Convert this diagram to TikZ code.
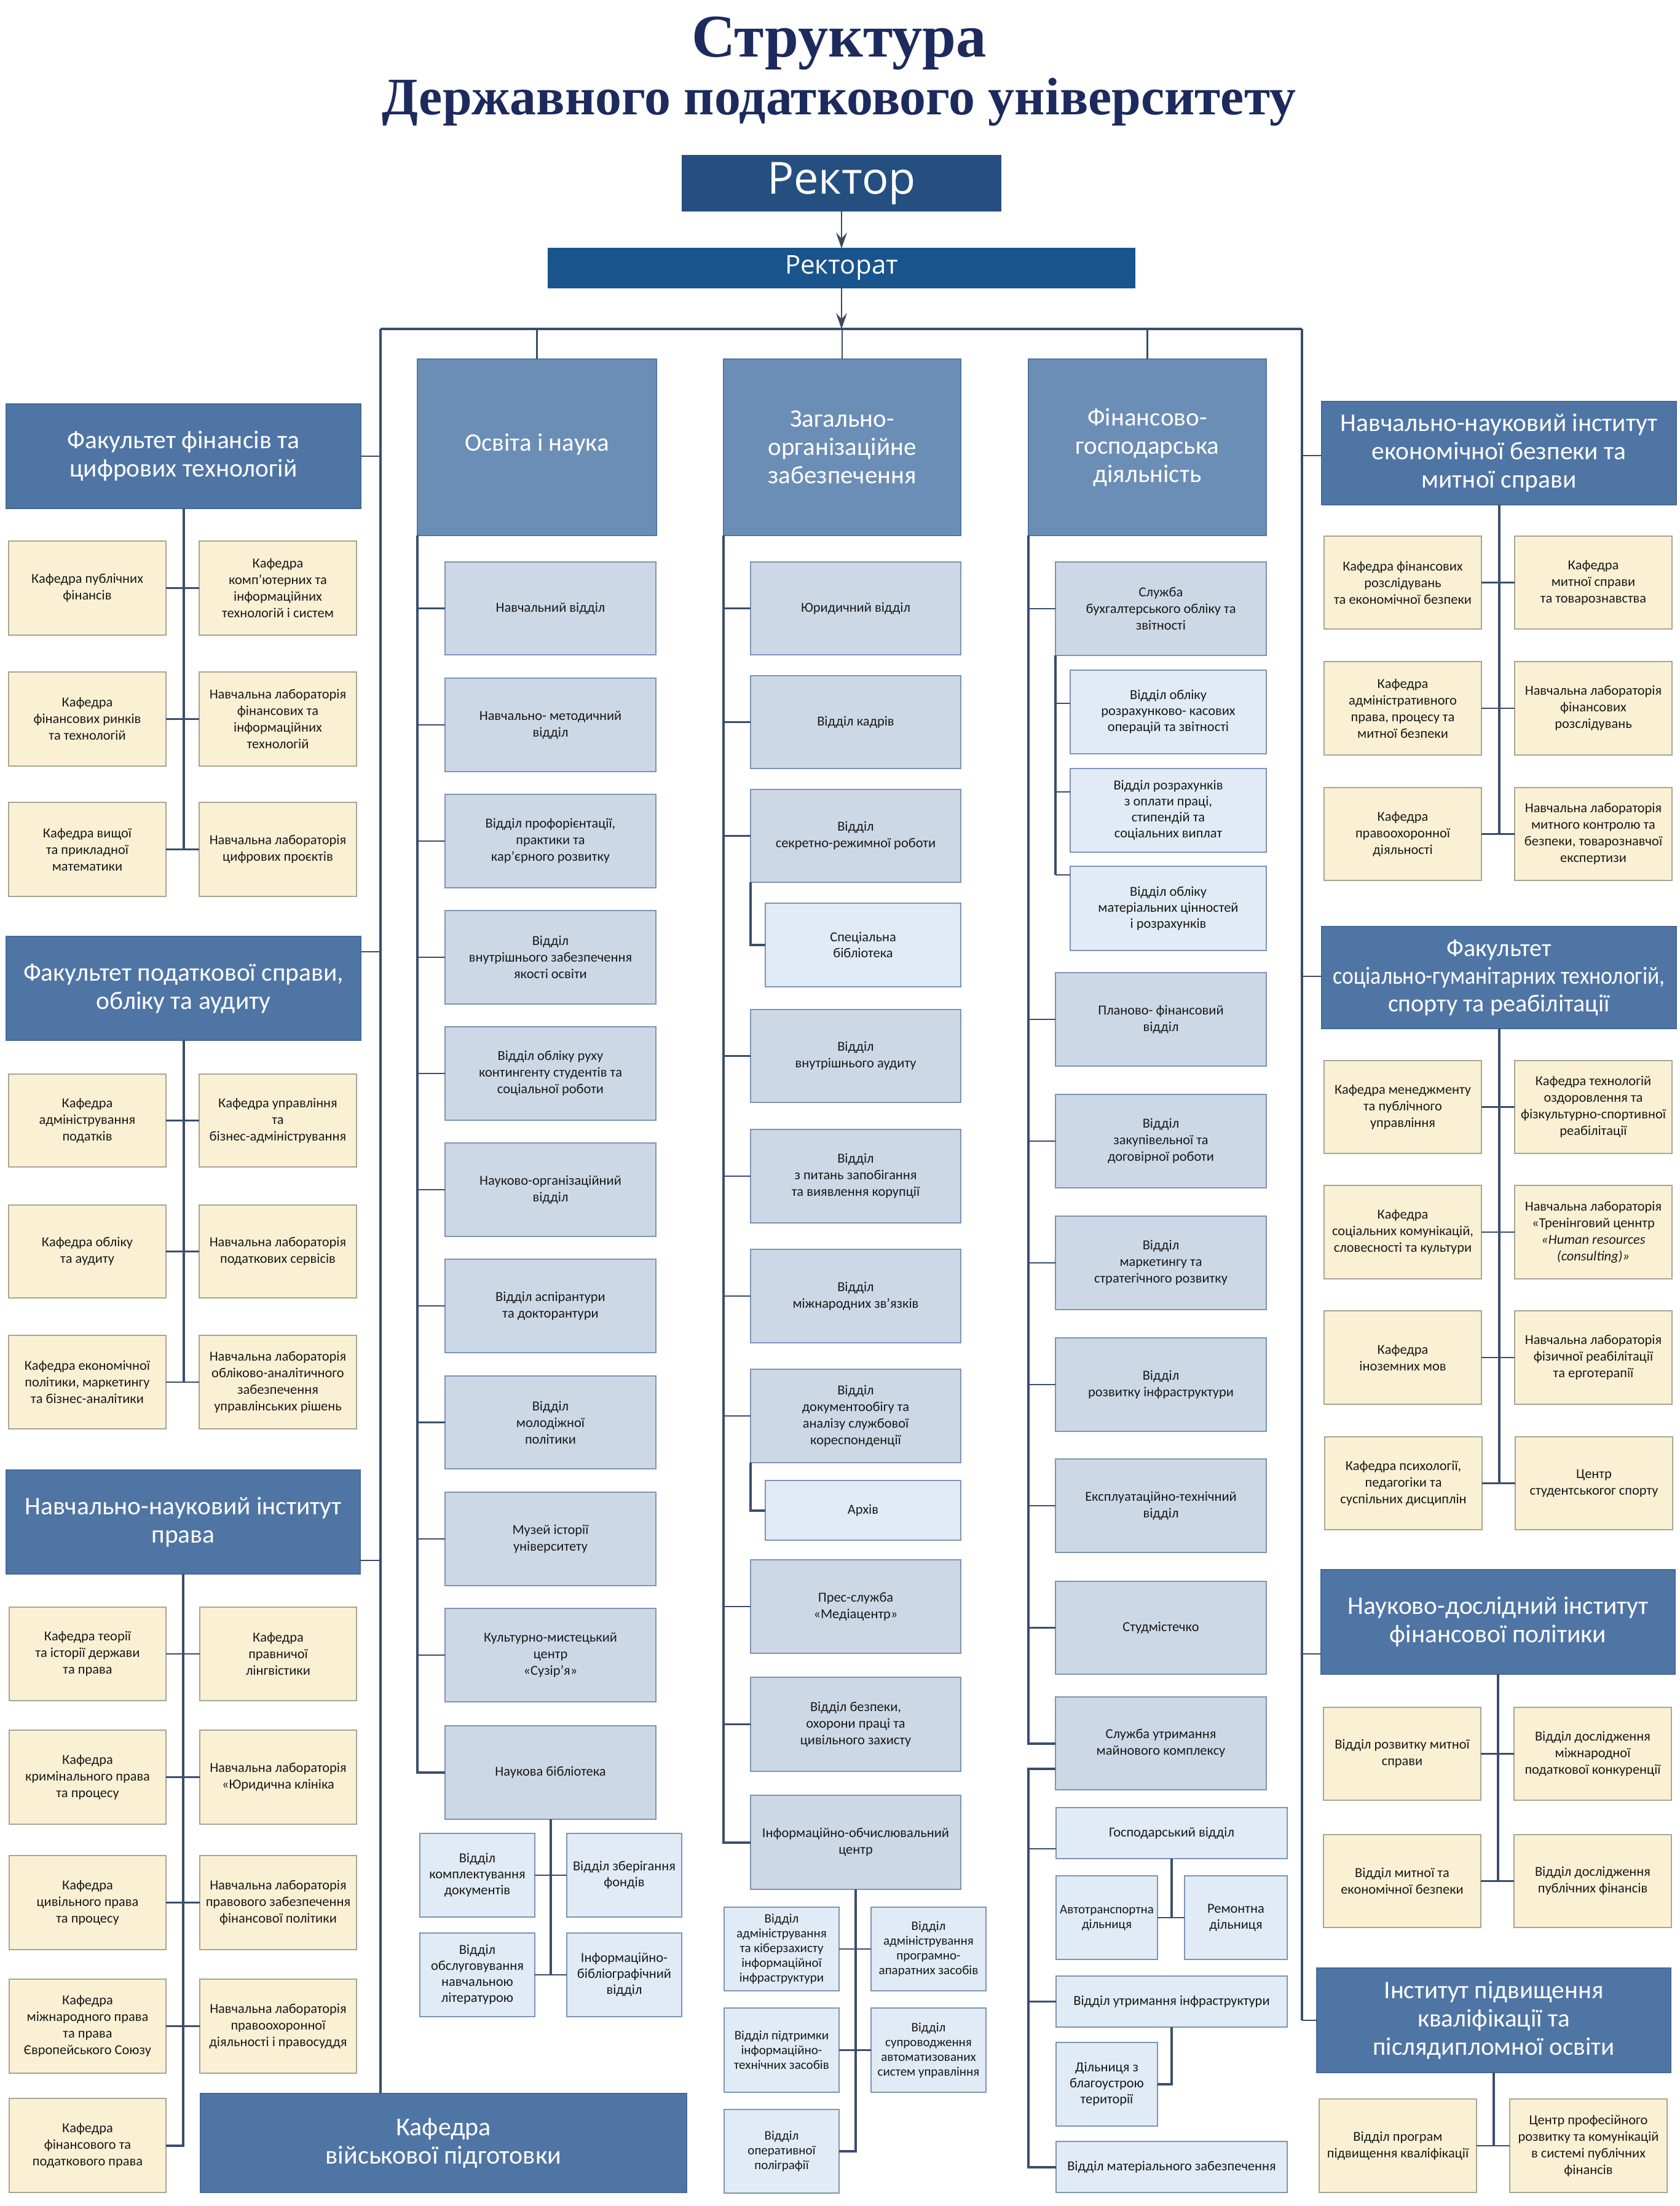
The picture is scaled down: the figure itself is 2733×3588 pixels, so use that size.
\documentclass[tikz,border=0pt]{standalone}
\usepackage{graphicx}
\usepackage{fontspec}
\setmainfont{Carlito}
\newfontfamily\osans{Open Sans}
\newfontfamily\tserif{Liberation Serif}
\usetikzlibrary{arrows.meta}
\definecolor{titlec}{RGB}{28,42,94}
\definecolor{rectc}{RGB}{36,79,128}
\definecolor{ratc}{RGB}{26,84,140}
\definecolor{hdrc}{RGB}{79,117,165}
\definecolor{hdrb}{RGB}{70,105,150}
\definecolor{colc}{RGB}{107,142,183}
\definecolor{colb}{RGB}{85,118,160}
\definecolor{leafc}{RGB}{205,216,231}
\definecolor{leafb}{RGB}{125,148,180}
\definecolor{subc}{RGB}{225,235,245}
\definecolor{yelc}{RGB}{250,241,213}
\definecolor{yelb}{RGB}{168,165,145}
\definecolor{txtc}{RGB}{25,25,25}
\definecolor{lc}{RGB}{58,77,108}
\definecolor{arrc}{RGB}{60,72,92}
\newcommand\mybox[7]{%
  \node[#1, minimum width={(#5-#3)*0.5pt}, minimum height={(#6-#4)*0.5pt}] (#2) at ({(#3+#5)/2},{(#4+#6)/2}) {#7};}
\tikzset{
  base/.style={rectangle, inner sep=1pt, outer sep=0pt, align=center, line width=0.8pt},
  hdr/.style={base, fill=hdrc, draw=hdrb, text=white, font=\fontsize{20.7}{23}\selectfont},
  colhdr/.style={base, fill=colc, draw=colb, text=white, font=\fontsize{20.5}{23}\selectfont},
  leaf/.style={base, fill=leafc, draw=leafb, text=txtc, font=\fontsize{11.2}{13.5}\selectfont},
  sub/.style={leaf, fill=subc, font=\fontsize{11.2}{13}\selectfont},
  subs/.style={leaf, fill=subc, font=\fontsize{10.5}{12}\selectfont},
  kaf/.style={base, fill=yelc, draw=yelb, text=txtc, font=\fontsize{11.2}{13.5}\selectfont},
  conn/.style={draw=lc, line width=1.3pt},
  trunk/.style={draw=lc, line width=2pt},
  bus/.style={draw=lc, line width=1.6pt},
  arr/.style={draw=arrc, line width=1pt, -{Stealth[length=13pt,width=9pt,inset=5pt]}},
}
\begin{document}
\begin{tikzpicture}[x=0.5pt,y=-0.5pt]
\fill[white] (0,0) rectangle (2733,3588);
\useasboundingbox (0,0) rectangle (2733,3588);

% ---------- title ----------
\node[anchor=base, inner sep=0, text=titlec, font=\tserif\bfseries] (t1) at (1365,92) {\resizebox{240pt}{!}{Структура}};
\node[anchor=base, inner sep=0, text=titlec, font=\tserif\bfseries] (t2) at (1365,186) {\resizebox{743pt}{!}{Державного податкового університету}};

% ---------- top ----------
\mybox{base, fill=rectc, draw=rectc, text=white, font=\osans\fontsize{36}{40}\selectfont}{rector}{1110}{253}{1628}{343}{Ректор}
\mybox{base, fill=ratc, draw=ratc, text=white, font=\osans\fontsize{21}{24}\selectfont}{rectorat}{892}{404}{1846}{468}{Ректорат}

% ---------- column headers ----------
\mybox{colhdr}{ohead}{679}{584}{1068}{871}{\raisebox{8pt}{Освіта і наука}}
\mybox{colhdr}{zhead}{1177}{584}{1563}{871}{Загально-\\організаційне\\забезпечення}
\mybox{colhdr}{fhead}{1673}{584}{2060}{871}{Фінансово-\\господарська\\діяльність}

% ---------- left faculties ----------
\mybox{hdr}{fA}{10}{657}{587}{827}{Факультет фінансів та\\цифрових технологій}
\mybox{kaf}{fAl1}{14}{880}{270}{1033}{Кафедра публічних\\фінансів}
\mybox{kaf}{fAr1}{324}{880}{580}{1033}{Кафедра\\комп’ютерних та\\інформаційних\\технологій і систем}
\mybox{kaf}{fAl2}{14}{1093}{270}{1246}{Кафедра\\фінансових ринків\\та технологій}
\mybox{kaf}{fAr2}{324}{1093}{580}{1246}{Навчальна лабораторія\\фінансових та\\інформаційних\\технологій}
\mybox{kaf}{fAl3}{14}{1305}{270}{1458}{Кафедра вищої\\та прикладної\\математики}
\mybox{kaf}{fAr3}{324}{1305}{580}{1458}{Навчальна лабораторія\\цифрових проєктів}

\mybox{hdr}{fB}{10}{1523}{587}{1692}{Факультет податкової справи,\\обліку та аудиту}
\mybox{kaf}{fBl1}{14}{1747}{270}{1898}{Кафедра\\адміністрування\\податків}
\mybox{kaf}{fBr1}{324}{1747}{580}{1898}{Кафедра управління\\та\\бізнес-адміністрування}
\mybox{kaf}{fBl2}{14}{1960}{270}{2111}{Кафедра обліку\\та аудиту}
\mybox{kaf}{fBr2}{324}{1960}{580}{2111}{Навчальна лабораторія\\податкових сервісів}
\mybox{kaf}{fBl3}{14}{2172}{270}{2324}{Кафедра економічної\\політики, маркетингу\\та бізнес-аналітики}
\mybox{kaf}{fBr3}{324}{2172}{580}{2324}{Навчальна лабораторія\\обліково-аналітичного\\забезпечення\\управлінських рішень}

\mybox{hdr}{fC}{10}{2391}{586}{2560}{Навчально-науковий інститут\\права}
\mybox{kaf}{fCl1}{15}{2614}{270}{2766}{Кафедра теорії\\та історії держави\\та права}
\mybox{kaf}{fCr1}{325}{2614}{580}{2766}{Кафедра\\правничої\\лінгвістики}
\mybox{kaf}{fCl2}{15}{2814}{270}{2967}{Кафедра\\кримінального права\\та процесу}
\mybox{kaf}{fCr2}{325}{2814}{580}{2967}{Навчальна лабораторія\\«Юридична клініка}
\mybox{kaf}{fCl3}{15}{3018}{270}{3171}{Кафедра\\цивільного права\\та процесу}
\mybox{kaf}{fCr3}{325}{3018}{580}{3171}{Навчальна лабораторія\\правового забезпечення\\фінансової політики}
\mybox{kaf}{fCl4}{15}{3219}{270}{3372}{Кафедра\\міжнародного права\\та права\\Європейського Союзу}
\mybox{kaf}{fCr4}{325}{3219}{580}{3372}{Навчальна лабораторія\\правоохоронної\\діяльності і правосуддя}
\mybox{kaf}{fCl5}{15}{3413}{270}{3566}{Кафедра\\фінансового та\\податкового права}

\mybox{hdr, font=\fontsize{21}{23}\selectfont}{kvp}{326}{3405}{1117}{3566}{Кафедра\\військової підготовки}

% ---------- Освіта і наука ----------
\mybox{leaf}{o1}{724}{914}{1067}{1065}{Навчальний відділ}
\mybox{leaf}{o2}{724}{1103}{1067}{1255}{Навчально- методичний\\відділ}
\mybox{leaf}{o3}{724}{1292}{1067}{1444}{Відділ профорієнтації,\\практики та\\кар’єрного розвитку}
\mybox{leaf}{o4}{724}{1481}{1067}{1633}{Відділ\\внутрішнього забезпечення\\якості освіти}
\mybox{leaf}{o5}{724}{1670}{1067}{1822}{Відділ обліку руху\\контингенту студентів та\\соціальної роботи}
\mybox{leaf}{o6}{724}{1859}{1067}{2011}{Науково-організаційний\\відділ}
\mybox{leaf}{o7}{724}{2048}{1067}{2200}{Відділ аспірантури\\та докторантури}
\mybox{leaf}{o8}{724}{2238}{1067}{2389}{Відділ\\молодіжної\\політики}
\mybox{leaf}{o9}{724}{2427}{1067}{2579}{Музей історії\\університету}
\mybox{leaf}{o10}{724}{2616}{1067}{2768}{Культурно-мистецький\\центр\\«Сузір’я»}
\mybox{leaf}{o11}{724}{2807}{1067}{2959}{Наукова бібліотека}
\mybox{sub}{ol1}{683}{2982}{870}{3118}{Відділ\\комплектування\\документів}
\mybox{sub}{or1}{922}{2982}{1109}{3118}{Відділ зберігання\\фондів}
\mybox{sub}{ol2}{683}{3144}{870}{3280}{Відділ\\обслуговування\\навчальною\\літературою}
\mybox{sub}{or2}{922}{3144}{1109}{3280}{Інформаційно-\\бібліографічний\\відділ}

% ---------- Загально-організаційне ----------
\mybox{leaf}{z1}{1221}{914}{1563}{1065}{Юридичний відділ}
\mybox{leaf}{z2}{1221}{1099}{1563}{1250}{Відділ кадрів}
\mybox{leaf}{z3}{1221}{1284}{1563}{1435}{Відділ\\секретно-режимної роботи}
\mybox{sub}{zs}{1245}{1469}{1563}{1605}{Спеціальна\\бібліотека}
\mybox{leaf}{z4}{1221}{1642}{1563}{1793}{Відділ\\внутрішнього аудиту}
\mybox{leaf}{z5}{1221}{1837}{1563}{1989}{Відділ\\з питань запобігання\\та виявлення корупції}
\mybox{leaf}{z6}{1221}{2032}{1563}{2184}{Відділ\\міжнародних зв’язків}
\mybox{leaf}{z7}{1221}{2227}{1563}{2379}{Відділ\\документообігу та\\аналізу службової\\кореспонденції}
\mybox{sub}{za}{1245}{2408}{1563}{2505}{Архів}
\mybox{leaf}{z8}{1221}{2537}{1563}{2689}{Прес-служба\\«Медіацентр»}
\mybox{leaf}{z9}{1221}{2728}{1563}{2881}{Відділ безпеки,\\охорони праці та\\цивільного захисту}
\mybox{leaf}{z10}{1221}{2920}{1563}{3073}{Інформаційно-обчислювальний\\центр}
\mybox{subs}{zl1}{1178}{3102}{1365}{3238}{Відділ\\адміністрування\\та кіберзахисту\\інформаційної\\інфраструктури}
\mybox{subs}{zr1}{1417}{3102}{1604}{3238}{Відділ\\адміністрування\\програмно-\\апаратних засобів}
\mybox{subs}{zl2}{1178}{3266}{1365}{3403}{Відділ підтримки\\інформаційно-\\технічних засобів}
\mybox{subs}{zr2}{1417}{3266}{1604}{3403}{Відділ\\супроводження\\автоматизованих\\систем управління}
\mybox{subs}{zl3}{1178}{3431}{1365}{3567}{Відділ\\оперативної\\поліграфії}

% ---------- Фінансово-господарська ----------
\mybox{leaf}{f1}{1717}{914}{2060}{1066}{Служба\\бухгалтерського обліку та\\звітності}
\mybox{sub}{fs1}{1741}{1090}{2060}{1226}{Відділ обліку\\розрахунково- касових\\операцій та звітності}
\mybox{sub}{fs2}{1741}{1250}{2060}{1386}{Відділ розрахунків\\з оплати праці,\\стипендій та\\соціальних виплат}
\mybox{sub}{fs3}{1741}{1409}{2060}{1546}{Відділ обліку\\матеріальних цінностей\\і розрахунків}
\mybox{leaf}{f2}{1717}{1582}{2060}{1734}{Планово- фінансовий\\відділ}
\mybox{leaf}{f3}{1717}{1780}{2060}{1932}{Відділ\\закупівельної та\\договірної роботи}
\mybox{leaf}{f4}{1717}{1978}{2060}{2130}{Відділ\\маркетингу та\\стратегічного розвитку}
\mybox{leaf}{f5}{1717}{2176}{2060}{2328}{Відділ\\розвитку інфраструктури}
\mybox{leaf}{f6}{1717}{2373}{2060}{2525}{Експлуатаційно-технічний\\відділ}
\mybox{leaf}{f7}{1717}{2572}{2060}{2723}{Студмістечко}
\mybox{leaf}{f8}{1717}{2760}{2060}{2911}{Служба утримання\\майнового комплексу}
\mybox{sub}{fg}{1718}{2940}{2094}{3023}{Господарський відділ}
\mybox{subs}{fa}{1718}{3051}{1883}{3187}{Автотранспортна\\дільниця}
\mybox{sub}{fr}{1927}{3051}{2094}{3187}{Ремонтна\\дільниця}
\mybox{sub}{fu}{1718}{3214}{2094}{3297}{Відділ утримання інфраструктури}
\mybox{sub}{fd}{1718}{3322}{1883}{3458}{Дільниця з\\благоустрою\\території}
\mybox{sub}{fm}{1718}{3483}{2094}{3566}{Відділ матеріального забезпечення}

% ---------- right side ----------
\mybox{hdr}{rA}{2150}{653}{2727}{821}{Навчально-науковий інститут\\економічної безпеки та\\митної справи}
\mybox{kaf}{rAl1}{2154}{872}{2410}{1023}{Кафедра фінансових\\розслідувань\\та економічної безпеки}
\mybox{kaf}{rAr1}{2464}{872}{2720}{1023}{Кафедра\\митної справи\\та товарознавства}
\mybox{kaf}{rAl2}{2154}{1076}{2410}{1228}{Кафедра\\адміністративного\\права, процесу та\\митної безпеки}
\mybox{kaf}{rAr2}{2464}{1076}{2720}{1228}{Навчальна лабораторія\\фінансових\\розслідувань}
\mybox{kaf}{rAl3}{2154}{1281}{2410}{1432}{Кафедра\\правоохоронної\\діяльності}
\mybox{kaf}{rAr3}{2464}{1281}{2720}{1432}{Навчальна лабораторія\\митного контролю та\\безпеки, товарознавчої\\експертизи}

\mybox{hdr, font=\fontsize{20}{22.5}\selectfont}{rB}{2150}{1507}{2727}{1673}{Факультет\\\resizebox{270pt}{\height}{соціально-гуманітарних технологій,}\\спорту та реабілітації}
\mybox{kaf}{rBl1}{2154}{1725}{2410}{1876}{Кафедра менеджменту\\та публічного\\управління}
\mybox{kaf}{rBr1}{2464}{1725}{2720}{1876}{Кафедра технологій\\оздоровлення та\\фізкультурно-спортивної\\реабілітації}
\mybox{kaf}{rBl2}{2154}{1928}{2410}{2080}{Кафедра\\соціальних комунікацій,\\словесності та культури}
\mybox{kaf}{rBr2}{2464}{1928}{2720}{2080}{Навчальна лабораторія\\«Тренінговий ценнтр\\\textit{«Human resources}\\\textit{(consulting)»}}
\mybox{kaf}{rBl3}{2154}{2132}{2410}{2284}{Кафедра\\іноземних мов}
\mybox{kaf}{rBr3}{2464}{2132}{2720}{2284}{Навчальна лабораторія\\фізичної реабілітації\\та ерготерапії}
\mybox{kaf}{rBl4}{2155}{2337}{2411}{2488}{Кафедра психології,\\педагогіки та\\суспільних дисциплін}
\mybox{kaf}{rBr4}{2465}{2337}{2721}{2488}{Центр\\студентськогог спорту}

\mybox{hdr}{rC}{2149}{2553}{2725}{2723}{Науково-дослідний інститут\\фінансової політики}
\mybox{kaf}{rCl1}{2153}{2777}{2409}{2928}{Відділ розвитку митної\\справи}
\mybox{kaf}{rCr1}{2463}{2777}{2719}{2928}{Відділ дослідження\\міжнародної\\податкової конкуренції}
\mybox{kaf}{rCl2}{2153}{2984}{2409}{3135}{Відділ митної та\\економічної безпеки}
\mybox{kaf}{rCr2}{2463}{2984}{2719}{3135}{Відділ дослідження\\публічних фінансів}

\mybox{hdr, font=\fontsize{20.5}{23}\selectfont}{rD}{2142}{3201}{2718}{3371}{Інститут підвищення\\кваліфікації та\\післядипломної освіти}
\mybox{kaf}{rDl}{2146}{3414}{2402}{3566}{Відділ програм\\підвищення кваліфікації}
\mybox{kaf}{rDr}{2456}{3414}{2712}{3566}{Центр професійного\\розвитку та комунікацій\\в системі публічних\\фінансів}

% ---------- helper coordinates ----------
\coordinate (busL) at (619,535);
\coordinate (busR) at (2118,535);
\coordinate (yB) at (0,1548);
\coordinate (yC) at (0,2538);
\coordinate (yRA) at (0,741);
\coordinate (yRB) at (0,1588);
\coordinate (yRC) at (0,2690);
\coordinate (ys1) at (0,1144);
\coordinate (ys2) at (0,1288);
\coordinate (ys3) at (0,1423);
\coordinate (y2877) at (0,2877);
\coordinate (y3007) at (0,3007);

% ---------- connectors: top ----------
\draw[arr] (rector.south) -- (rectorat.north);
\draw[arr] (rectorat.south) -- (rectorat.south |- busL);
\draw[bus] (busL) -- (busR);
\draw[bus] (busL) -- (busL |- kvp.north);
\draw[bus] (busR) -- (busR |- rD.west);
\draw[conn] (ohead.north) -- (ohead.north |- busL);
\draw[conn] (zhead.north) -- (zhead.north |- busL);
\draw[conn] (fhead.north) -- (fhead.north |- busL);

% faculties to buses
\draw[conn] (fA.east) -- (fA.east -| busL);
\draw[conn] (fB.east |- yB) -- (busL |- yB);
\draw[conn] (fC.east |- yC) -- (busL |- yC);
\draw[conn] (rA.west |- yRA) -- (busR |- yRA);
\draw[conn] (rB.west |- yRB) -- (busR |- yRB);
\draw[conn] (rC.west |- yRC) -- (busR |- yRC);
\draw[conn] (rD.west) -- (busR |- rD.west);

% left faculties internal
\draw[trunk] (fA.south) -- (fA.south |- fAl3.east);
\foreach \i in {1,2,3} {\draw[conn] (fAl\i.east) -- (fAr\i.west);}
\draw[trunk] (fB.south) -- (fB.south |- fBl3.east);
\foreach \i in {1,2,3} {\draw[conn] (fBl\i.east) -- (fBr\i.west);}
\draw[trunk] (fC.south) |- (fCl5.east);
\foreach \i in {1,2,3,4} {\draw[conn] (fCl\i.east) -- (fCr\i.west);}

% right side internal
\draw[trunk] (rA.south) -- (rA.south |- rAl3.east);
\foreach \i in {1,2,3} {\draw[conn] (rAl\i.east) -- (rAr\i.west);}
\draw[trunk] (rB.south) -- (rB.south |- rBl4.east);
\foreach \i in {1,2,3,4} {\draw[conn] (rBl\i.east) -- (rBr\i.west);}
\draw[trunk] (rC.south) -- (rC.south |- rCl2.east);
\foreach \i in {1,2} {\draw[conn] (rCl\i.east) -- (rCr\i.west);}
\draw[trunk] (rD.south) -- (rD.south |- rDl.east);
\draw[conn] (rDl.east) -- (rDr.west);

% Освіта
\draw[trunk] (ohead.south west) |- (o11.west);
\foreach \i in {1,...,10} {\draw[conn] (o\i.west) -- (o\i.west -| ohead.south west);}
\draw[trunk] (o11.south) -- (o11.south |- ol2.east);
\draw[conn] (ol1.east) -- (or1.west);
\draw[conn] (ol2.east) -- (or2.west);

% Загально
\draw[trunk] (zhead.south west) |- (z10.west);
\foreach \i in {1,...,9} {\draw[conn] (z\i.west) -- (z\i.west -| zhead.south west);}
\draw[trunk] (z3.south west) |- (zs.west);
\draw[trunk] (z7.south west) |- (za.west);
\draw[trunk] (z10.south) -- (z10.south |- zl3.east) -- (zl3.east);
\draw[conn] (zl1.east) -- (zr1.west);
\draw[conn] (zl2.east) -- (zr2.west);

% Фінансово
\draw[trunk] (fhead.south west) |- (f8.west);
\foreach \i in {1,...,7} {\draw[conn] (f\i.west) -- (f\i.west -| fhead.south west);}
\draw[trunk] (f1.south west) -- (f1.south west |- ys3);
\draw[conn] (f1.south west |- ys1) -- (fs1.west |- ys1);
\draw[conn] (f1.south west |- ys2) -- (fs2.west |- ys2);
\draw[conn] (f1.south west |- ys3) -- (fs3.west |- ys3);
\draw[trunk] (f8.west |- y2877) -| (fhead.south west |- fm.west) -- (fm.west);
\draw[conn] (fg.west |- y3007) -- (fhead.south west |- y3007);
\draw[conn] (fu.west) -- (fu.west -| fhead.south west);
\draw[trunk] (fg.south) -- (fg.south |- fa.east);
\draw[conn] (fa.east) -- (fr.west);
\draw[trunk] (fu.south) |- (fd.east);
\end{tikzpicture}
\end{document}
